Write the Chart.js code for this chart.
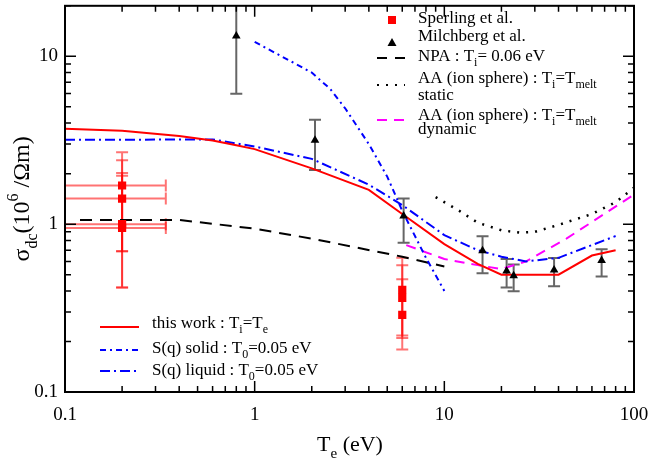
<!DOCTYPE html>
<html>
<head>
<meta charset="utf-8">
<script src="https://cdn.jsdelivr.net/npm/chart.js@4.4.0/dist/chart.umd.min.js"></script>
<style>
  html, body { margin: 0; padding: 0; background: #fff; }
</style>
</head>
<body>
<canvas id="chart" width="648" height="461"></canvas>
<script>
// ========================
// DATA
// ========================

// this work : Ti = Te
const thisWorkT = [0.1, 0.2, 0.4, 0.6, 0.8, 1, 2, 4, 6, 10, 15, 20, 40, 60, 80];
const thisWorkS = [3.7, 3.6, 3.35, 3.15, 2.95, 2.8, 2.15, 1.6, 1.15, 0.76, 0.58, 0.5, 0.5, 0.65, 0.7];

// S(q) solid : T0 = 0.05 eV
const solidT = [1, 2, 2.5, 3, 4, 5, 6, 7, 8, 10];
const solidS = [12.2, 8.0, 6.4, 4.9, 3.0, 1.92, 1.2, 0.85, 0.63, 0.40];

// S(q) liquid : T0 = 0.05 eV
const liquidT = [0.1, 0.2, 0.4, 0.6, 1, 2, 4, 6, 10, 15, 20, 27, 40, 80];
const liquidS = [3.18, 3.18, 3.2, 3.2, 2.9, 2.45, 1.72, 1.3, 0.86, 0.70, 0.64, 0.60, 0.63, 0.85];

// NPA : Ti = 0.06 eV
const npaT = [0.12, 0.4, 1, 2, 6, 10];
const npaS = [1.06, 1.06, 0.94, 0.82, 0.64, 0.56];

// AA (ion sphere) static / dynamic
const staticT = [9, 12, 15, 20, 25, 30, 40, 60, 80, 100];
const staticS = [1.45, 1.2, 1.02, 0.92, 0.89, 0.9, 0.99, 1.15, 1.35, 1.65];
const dynamicT = [6.3, 10, 15, 20, 27, 44, 60, 100];
const dynamicS = [0.75, 0.62, 0.57, 0.54, 0.60, 0.82, 1.03, 1.5];

// Sperling et al. (with error bars)
const sperT   = [0.2, 0.2, 0.2, 0.2, 6, 6, 6];
const sperS   = [1.70, 1.42, 1.00, 0.95, 0.406, 0.364, 0.288];
const sperSLo = [0.69, 0.42, 0.69, 0.42, 0.217, 0.179, 0.21];
const sperSHi = [2.68, 2.40, 2.02, 1.94, 0.63, 0.57, 0.47];
const sperTLo = [0.06, 0.06, 0.06, 0.06, null, null, null];
const sperTHi = [0.34, 0.34, 0.34, 0.34, null, null, null];

// Milchberg et al. (with error bars)
const milT   = [0.8, 2.08, 6.1, 15.9, 21.3, 23.2, 37.9, 67.5];
const milS   = [13.2, 3.16, 1.12, 0.694, 0.526, 0.492, 0.533, 0.607];
const milSLo = [5.98, 2.10, 0.776, 0.51, 0.42, 0.399, 0.427, 0.488];
const milSHi = [20.4, 4.19, 1.42, 0.848, 0.62, 0.575, 0.629, 0.71];

// axis ticks
const xTickValues = [0.1, 1, 10, 100];
const yTickValues = [0.1, 1, 10];

// ========================
// HELPERS
// ========================

const FONT = '"Liberation Serif", "Times New Roman", serif';

const pts = (xs, ys) => xs.map((x, i) => ({ x, y: ys[i] }));

function curve(xs, ys, color, dash, width) {
  return {
    data: pts(xs, ys),
    showLine: true,
    borderColor: color,
    borderWidth: width || 2,
    borderDash: dash,
    pointRadius: 0,
    fill: false,
    tension: 0
  };
}

// draw text made of runs: [text, 'n' | 'sub' | 'sup']
function richText(ctx, runs, x, y, size, align) {
  const small = Math.round(size * 0.68);
  const widthOf = r => {
    ctx.font = `${r[1] === 'n' ? size : small}px ${FONT}`;
    return ctx.measureText(r[0]).width;
  };
  const total = runs.reduce((s, r) => s + widthOf(r), 0);
  let cx = align === 'center' ? x - total / 2 : x;
  ctx.textBaseline = 'alphabetic';
  ctx.textAlign = 'left';
  runs.forEach(r => {
    const w = widthOf(r);
    let dy = 0;
    if (r[1] === 'sub') dy = size * 0.32;
    if (r[1] === 'sup') dy = -size * 0.45;
    ctx.fillText(r[0], cx, y + dy);
    cx += w;
  });
}

function logValues(min, max) {
  const out = [];
  for (let d = -2; d <= 3; d++) {
    for (let m = 1; m <= 9; m++) {
      const v = m * Math.pow(10, d);
      if (v >= min * 0.999 && v <= max * 1.001) out.push({ v, major: m === 1 });
    }
  }
  return out;
}

// the frame is fixed by hand, so drop the label overhang padding
function fixBox(size) {
  return s => {
    if (s.isHorizontal()) s.height = size; else s.width = size;
    s.paddingLeft = s.paddingRight = s.paddingTop = s.paddingBottom = 0;
  };
}

// ========================
// PLUGINS
// ========================

const errorBars = {
  id: 'errorBars',
  beforeDatasetsDraw(chart) {
    const { ctx, chartArea: a, scales: { x, y } } = chart;
    ctx.save();
    ctx.beginPath();
    ctx.rect(a.left, a.top, a.right - a.left, a.bottom - a.top);
    ctx.clip();
    ctx.lineWidth = 2;

    // Sperling: light red bars
    ctx.strokeStyle = 'rgba(255,0,0,0.55)';
    sperT.forEach((t, i) => {
      const px = x.getPixelForValue(t);
      const py = y.getPixelForValue(sperS[i]);
      const lo = y.getPixelForValue(sperSLo[i]);
      const hi = y.getPixelForValue(sperSHi[i]);
      ctx.beginPath();
      ctx.moveTo(px, lo); ctx.lineTo(px, hi);
      ctx.moveTo(px - 6, lo); ctx.lineTo(px + 6, lo);
      ctx.moveTo(px - 6, hi); ctx.lineTo(px + 6, hi);
      if (sperTLo[i] !== null) {
        const l = x.getPixelForValue(sperTLo[i]);
        const r = x.getPixelForValue(sperTHi[i]);
        ctx.moveTo(l, py); ctx.lineTo(r, py);
        ctx.moveTo(r, py - 6); ctx.lineTo(r, py + 6);
      }
      ctx.stroke();
    });

    // Milchberg: grey bars
    ctx.strokeStyle = '#666';
    milT.forEach((t, i) => {
      const px = x.getPixelForValue(t);
      const lo = y.getPixelForValue(milSLo[i]);
      const hi = y.getPixelForValue(milSHi[i]);
      ctx.beginPath();
      ctx.moveTo(px, lo); ctx.lineTo(px, hi);
      ctx.moveTo(px - 6, lo); ctx.lineTo(px + 6, lo);
      ctx.moveTo(px - 6, hi); ctx.lineTo(px + 6, hi);
      ctx.stroke();
    });
    ctx.restore();
  }
};

const frameAndLabels = {
  id: 'frameAndLabels',
  afterDraw(chart) {
    const { ctx, chartArea: a, scales: { x, y } } = chart;
    ctx.save();

    // frame
    ctx.strokeStyle = '#000';
    ctx.lineWidth = 2;
    ctx.strokeRect(a.left, a.top, a.right - a.left, a.bottom - a.top);

    // inward ticks on all four sides
    ctx.lineWidth = 1.5;
    ctx.beginPath();
    logValues(x.min, x.max).forEach(t => {
      const px = x.getPixelForValue(t.v);
      const len = t.major ? 11 : 6;
      ctx.moveTo(px, a.bottom); ctx.lineTo(px, a.bottom - len);
      ctx.moveTo(px, a.top); ctx.lineTo(px, a.top + len);
    });
    logValues(y.min, y.max).forEach(t => {
      const py = y.getPixelForValue(t.v);
      const len = t.major ? 11 : 6;
      ctx.moveTo(a.left, py); ctx.lineTo(a.left + len, py);
      ctx.moveTo(a.right, py); ctx.lineTo(a.right - len, py);
    });
    ctx.stroke();

    ctx.fillStyle = '#000';

    // axis titles
    richText(ctx, [['T', 'n'], ['e', 'sub'], [' (eV)', 'n']], 350, 451, 22, 'center');
    ctx.save();
    ctx.translate(29, (a.top + a.bottom) / 2);
    ctx.rotate(-Math.PI / 2);
    richText(ctx, [['σ', 'n'], ['dc', 'sub'], ['(10', 'n'], ['6', 'sup'], [' /Ωm)', 'n']], 0, 0, 24, 'center');
    ctx.restore();

    // top-right legend
    const lx = 418, fs = 17;
    ctx.fillStyle = '#f00';
    ctx.fillRect(388, 16, 8, 8);
    ctx.fillStyle = '#000';
    ctx.beginPath();
    ctx.moveTo(392, 38); ctx.lineTo(396.5, 46); ctx.lineTo(387.5, 46); ctx.closePath();
    ctx.fill();

    const legendLine = (x0, x1, yy, color, dash) => {
      ctx.save();
      ctx.strokeStyle = color;
      ctx.lineWidth = 2;
      ctx.setLineDash(dash);
      ctx.beginPath();
      ctx.moveTo(x0, yy); ctx.lineTo(x1, yy);
      ctx.stroke();
      ctx.restore();
    };
    legendLine(377, 405, 58, '#000', [10, 8]);
    legendLine(377, 405, 85, '#000', [2, 7]);
    legendLine(377, 405, 120, '#f0f', [10, 7]);

    ctx.fillStyle = '#000';
    richText(ctx, [['Sperling et al.', 'n']], lx, 23, fs);
    richText(ctx, [['Milchberg et al.', 'n']], lx, 41, fs);
    richText(ctx, [['NPA : T', 'n'], ['i', 'sub'], ['= 0.06 eV', 'n']], lx, 61, fs);
    richText(ctx, [['AA (ion sphere) : T', 'n'], ['i', 'sub'], ['=T', 'n'], ['melt', 'sub']], lx, 83, fs);
    richText(ctx, [['static', 'n']], lx, 100, fs);
    richText(ctx, [['AA (ion sphere) : T', 'n'], ['i', 'sub'], ['=T', 'n'], ['melt', 'sub']], lx, 120, fs);
    richText(ctx, [['dynamic', 'n']], lx, 134, fs);

    // bottom-left legend
    legendLine(100, 139, 327, '#f00', []);
    legendLine(100, 139, 350, '#00f', [6, 4, 2, 4]);
    legendLine(100, 139, 371, '#00f', [10, 4, 2, 4]);
    ctx.fillStyle = '#000';
    richText(ctx, [['this work : T', 'n'], ['i', 'sub'], ['=T', 'n'], ['e', 'sub']], 152, 328, fs);
    richText(ctx, [['S(q) solid : T', 'n'], ['0', 'sub'], ['=0.05 eV', 'n']], 152, 353, fs);
    richText(ctx, [['S(q) liquid : T', 'n'], ['0', 'sub'], ['=0.05 eV', 'n']], 152, 375, fs);

    ctx.restore();
  }
};

// ========================
// CHART
// ========================

const tickFont = { family: FONT, size: 19 };

new Chart(document.getElementById('chart'), {
  type: 'scatter',
  data: {
    datasets: [
      {
        data: pts(milT, milS),
        pointStyle: 'triangle',
        pointRadius: 5,
        backgroundColor: '#000',
        borderColor: '#000',
        borderWidth: 0,
        showLine: false
      },
      {
        data: pts(sperT, sperS),
        pointStyle: 'rect',
        pointRadius: 5.8,
        backgroundColor: '#f00',
        borderColor: '#f00',
        borderWidth: 0,
        showLine: false
      },
      curve(thisWorkT, thisWorkS, '#f00', []),
      curve(solidT, solidS, '#00f', [6, 4, 2, 4]),
      curve(liquidT, liquidS, '#00f', [10, 4, 2, 4]),
      curve(npaT, npaS, '#000', [12, 8]),
      curve(staticT, staticS, '#000', [2, 7], 2.5),
      curve(dynamicT, dynamicS, '#f0f', [10, 7])
    ]
  },
  options: {
    responsive: false,
    animation: false,
    layout: { padding: { top: 5, right: 14, left: 0, bottom: 0 } },
    plugins: {
      legend: { display: false },
      tooltip: { enabled: false }
    },
    scales: {
      x: {
        type: 'logarithmic',
        min: 0.1,
        max: 100,
        grid: { display: false, drawTicks: false },
        border: { display: false },
        afterBuildTicks: s => { s.ticks = xTickValues.map(v => ({ value: v })); },
        afterFit: fixBox(69),
        ticks: {
          font: tickFont,
          color: '#000',
          padding: 12,
          maxRotation: 0,
          autoSkip: false,
          callback: v => String(v)
        }
      },
      y: {
        type: 'logarithmic',
        min: 0.1,
        max: 20,
        grid: { display: false, drawTicks: false },
        border: { display: false },
        afterBuildTicks: s => { s.ticks = yTickValues.map(v => ({ value: v })); },
        afterFit: fixBox(65),
        ticks: {
          font: tickFont,
          color: '#000',
          padding: 7,
          autoSkip: false,
          callback: v => String(v)
        }
      }
    }
  },
  plugins: [errorBars, frameAndLabels]
});
</script>
</body>
</html>
